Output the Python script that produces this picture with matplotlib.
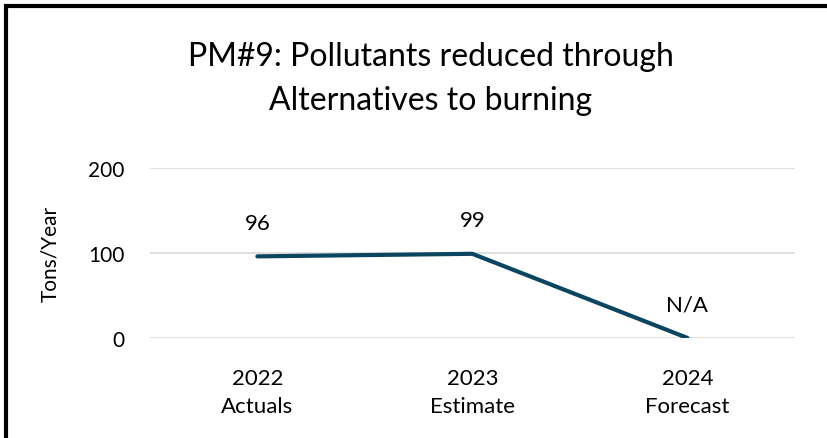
import matplotlib
matplotlib.use("Agg")
import matplotlib.pyplot as plt
from matplotlib.patches import Rectangle

plt.rcParams['font.family'] = ['Lato', 'DejaVu Sans']

categories = ["2022\nActuals", "2023\nEstimate", "2024\nForecast"]
values = [96, 99, 0]
point_labels = ["96", "99", "N/A"]
yticks = [0, 100, 200]

fig = plt.figure(figsize=(8.28, 4.39), dpi=100)
ax = fig.add_axes([0.181, 0.228, 0.779, 0.387])

x = range(len(categories))
ax.plot(x, values, color="#0B4560", lw=3.0, solid_capstyle="round", solid_joinstyle="round", zorder=3)
for xi, v, lab in zip(x, values, point_labels):
    ax.annotate(lab, (xi, v), xytext=(0, 17), textcoords="offset points",
                ha="center", va="bottom", fontsize=16, color="black")

ax.set_xlim(-0.5, 2.5)
ax.set_ylim(0, 200)
ax.set_yticks(yticks)
ax.set_xticks(list(x))
ax.set_xticklabels(categories, fontsize=16, linespacing=1.45)
ax.tick_params(axis="y", labelsize=15, length=0, pad=18)
ax.tick_params(axis="x", length=0, pad=22)
ax.grid(axis="y", color="#D9D9D9", lw=1.2)
ax.set_axisbelow(True)
for s in ax.spines.values():
    s.set_visible(False)
ax.set_ylabel("Tons/Year", fontsize=15, labelpad=20)

fig.text(0.52, 0.82, "PM#9: Pollutants reduced through\nAlternatives to burning",
         ha="center", va="center", fontsize=23, linespacing=1.6)

fig.patches.append(Rectangle((0.007, -0.05), 1.2, 1.035, transform=fig.transFigure,
                             fill=False, edgecolor="black", lw=3))

fig.savefig("out.png", dpi=100)
